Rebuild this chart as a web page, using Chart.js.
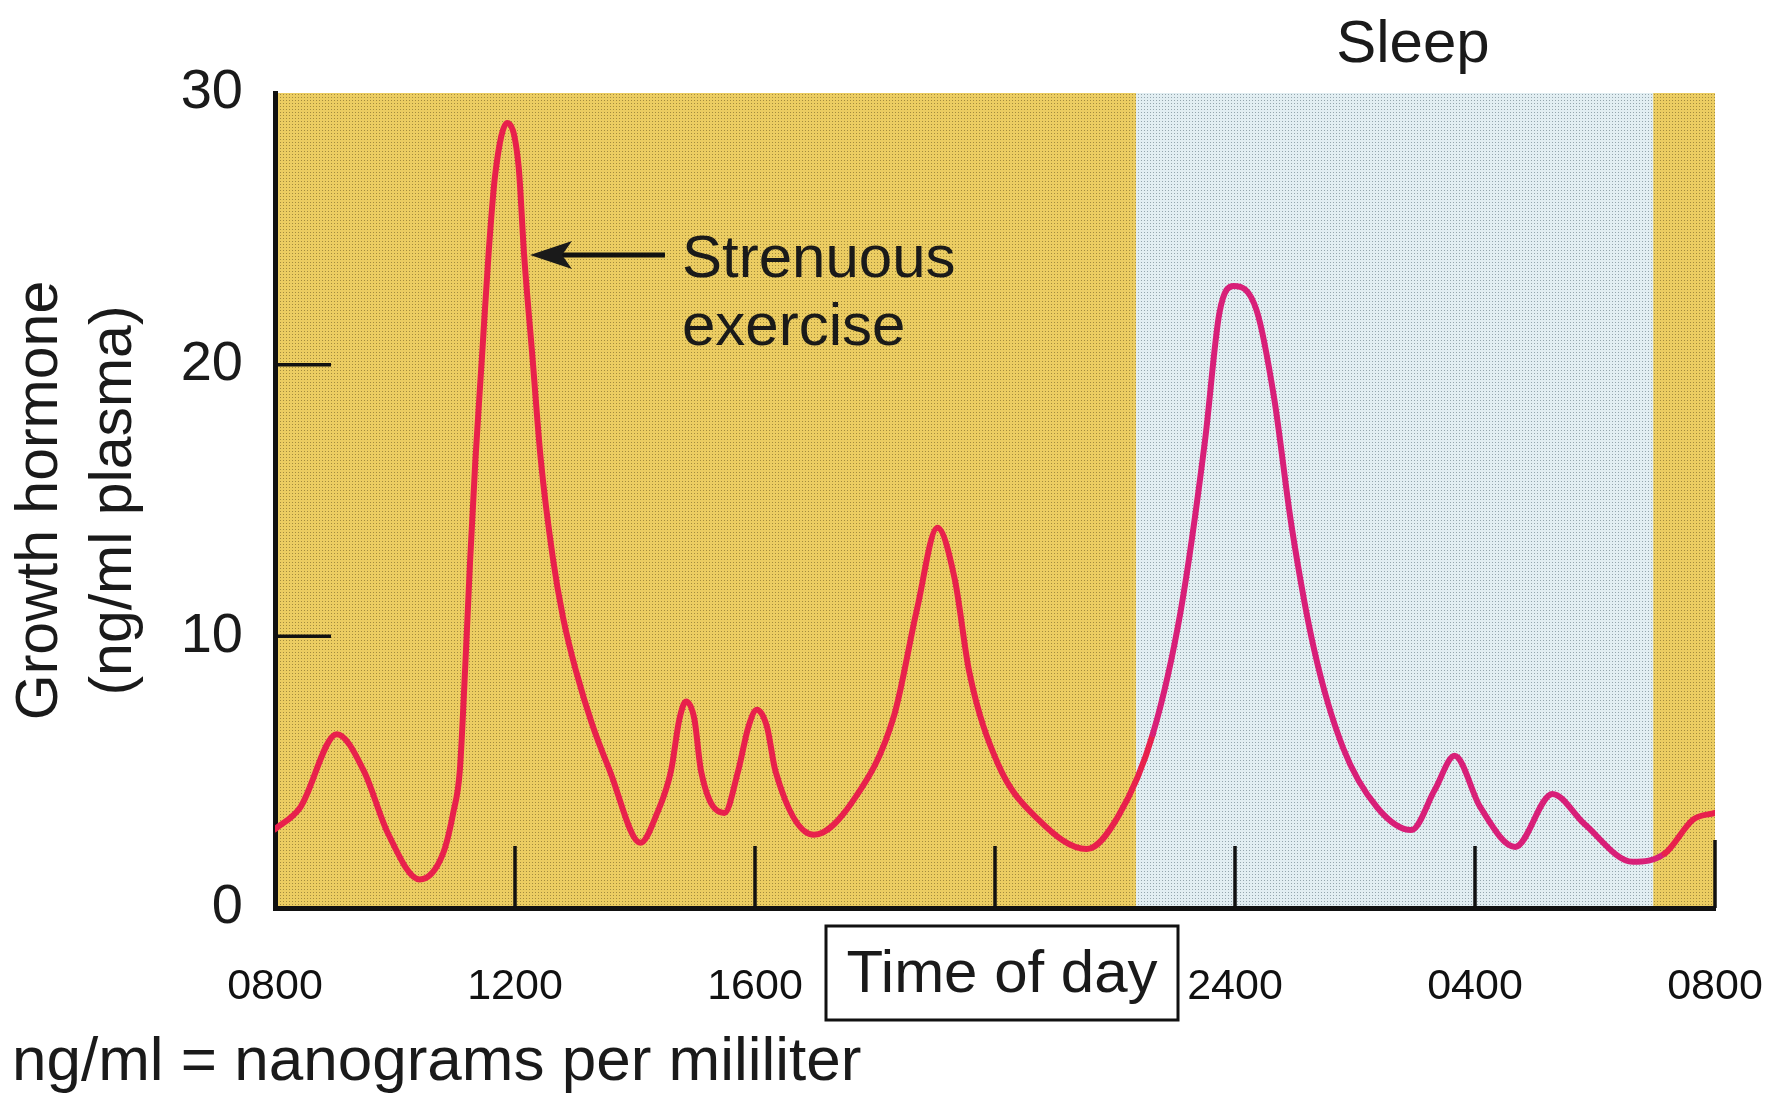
<!DOCTYPE html>
<html>
<head>
<meta charset="utf-8">
<title>Growth hormone</title>
<script src="https://cdn.jsdelivr.net/npm/chart.js@4.4.1/dist/chart.umd.min.js"></script>
<style>
  html, body { margin: 0; padding: 0; background: #fff; }
  canvas { display: block; }
</style>
</head>
<body>
<canvas id="ghChart" width="1773" height="1099"></canvas>
<script>
// hours after 08:00
const hours = [0, 0.42, 1.03, 1.48, 1.88, 2.41, 2.8, 2.97, 3.08, 3.17, 3.25, 3.34, 3.45, 3.56, 3.67, 3.87, 4.06, 4.15, 4.29, 4.43,
  4.63, 4.8, 5.02, 5.28, 5.58, 6.09, 6.37, 6.6, 6.74, 6.85, 6.99, 7.1, 7.49, 7.72, 7.89, 8.03, 8.2, 8.34, 8.98, 9.65,
  10.32, 10.7, 11.04, 11.33, 11.57, 12.05, 12.72, 13.53, 14.06, 14.63, 15.1, 15.5, 15.74, 15.98, 16.36, 16.65, 16.94, 17.32,
  17.8, 18.37, 18.94, 19.33, 19.66, 20.09, 20.67, 21.29, 21.82, 22.63, 23.16, 23.64, 24];
// ng/ml plasma
const hormone = [2.9, 3.7, 6.4, 5.05, 2.76, 1.05, 2.0, 3.5, 5.05, 8.86, 12.7, 16.5, 20.3, 24.1, 27.0, 28.9, 27.3, 24.1, 20.3, 16.5,
  12.9, 10.7, 8.7, 6.8, 5.05, 2.4, 3.5, 5.05, 6.95, 7.6, 6.95, 5.05, 3.5, 5.05, 6.67, 7.3, 6.67, 5.05, 2.7, 4.0,
  7.1, 11.0, 14.0, 12.1, 8.7, 5.3, 3.26, 2.17, 3.4, 6.4, 11.0, 17.2, 21.9, 22.9, 22.0, 18.8, 14.1, 9.5,
  5.9, 3.7, 2.87, 4.35, 5.6, 3.7, 2.25, 4.2, 3.1, 1.7, 2.0, 3.26, 3.5];

const xTickHours = [0, 4, 8, 12, 16, 20, 24];
const xTickLabels = ['0800', '1200', '1600', '', '2400', '0400', '0800'];
const yTicks = [0, 10, 20, 30];
const sleepBand = [14.35, 22.97]; // start / end of sleep

const dayColor = '#e8204c';
const nightColor = '#d81f78';
const FONT = "'Liberation Sans', Arial, Helvetica, sans-serif";

function makePattern(base, dot) {
  const c = document.createElement('canvas');
  c.width = 3; c.height = 3;
  const g = c.getContext('2d');
  g.fillStyle = base;
  g.fillRect(0, 0, 3, 3);
  g.fillStyle = dot;
  g.fillRect(1, 1, 1, 1);
  return g.createPattern(c, 'repeat');
}
const dayFill = makePattern('#eccd62', '#a48c3e');
const nightFill = makePattern('#e2eef2', '#95a6ae');

// background: day yellow, sleep blue
const bgPlugin = {
  id: 'bg',
  beforeDraw(chart) {
    const { ctx, chartArea: { left, right, top, bottom }, scales: { x } } = chart;
    ctx.save();
    ctx.fillStyle = dayFill;
    ctx.fillRect(left, top, right - left, bottom - top);
    const s = x.getPixelForValue(sleepBand[0]);
    const e = x.getPixelForValue(sleepBand[1]);
    ctx.fillStyle = nightFill;
    ctx.fillRect(s, top, e - s, bottom - top);
    ctx.restore();
  }
};

// tick marks drawn inside the plot
const tickPlugin = {
  id: 'innerTicks',
  beforeDatasetsDraw(chart) {
    const { ctx, chartArea: { left, bottom }, scales: { x, y } } = chart;
    ctx.save();
    ctx.strokeStyle = '#111';
    ctx.lineWidth = 3.5;
    ctx.beginPath();
    xTickHours.slice(1).forEach(h => {
      const px = x.getPixelForValue(h);
      ctx.moveTo(px, bottom);
      ctx.lineTo(px, bottom - (h === 24 ? 68 : 62));
    });
    [10, 20].forEach(v => {
      const py = y.getPixelForValue(v);
      ctx.moveTo(left, py);
      ctx.lineTo(left + 56, py);
    });
    ctx.stroke();
    ctx.restore();
  }
};

// labels, arrow, boxed axis title, footnote
const notePlugin = {
  id: 'notes',
  afterDraw(chart) {
    const { ctx } = chart;
    ctx.save();
    ctx.fillStyle = '#1a1a1a';
    ctx.strokeStyle = '#111';
    ctx.textBaseline = 'alphabetic';

    ctx.font = '60px ' + FONT;
    ctx.textAlign = 'center';
    ctx.fillText('Sleep', 1413, 62);

    ctx.textAlign = 'left';
    ctx.fillText('Strenuous', 682, 277);
    ctx.fillText('exercise', 682, 345);

    // arrow
    ctx.lineWidth = 5;
    ctx.beginPath();
    ctx.moveTo(665, 255);
    ctx.lineTo(556, 255);
    ctx.stroke();
    ctx.beginPath();
    ctx.moveTo(530, 255);
    ctx.lineTo(572, 241);
    ctx.lineTo(562, 255);
    ctx.lineTo(572, 269);
    ctx.closePath();
    ctx.fill();

    // Time of day box
    ctx.lineWidth = 3;
    ctx.strokeRect(826, 926, 352, 94);
    ctx.textAlign = 'center';
    ctx.fillText('Time of day', 1002, 992);

    ctx.textAlign = 'left';
    ctx.font = '62px ' + FONT;
    ctx.fillText('ng/ml = nanograms per mililiter', 12, 1080);
    ctx.restore();
  }
};

const data = {
  datasets: [{
    data: hours.map((h, i) => ({ x: h, y: hormone[i] })),
    borderColor: dayColor,
    borderWidth: 6,
    pointRadius: 0,
    cubicInterpolationMode: 'monotone',
    borderJoinStyle: 'round',
    borderCapStyle: 'round',
    fill: false,
    segment: {
      borderColor: c => {
        const mid = (c.p0.parsed.x + c.p1.parsed.x) / 2;
        return mid > sleepBand[0] && mid < sleepBand[1] ? nightColor : dayColor;
      }
    }
  }]
};

const config = {
  type: 'line',
  data: data,
  options: {
    responsive: false,
    animation: false,
    layout: {
      padding: { left: 0, top: 93, right: 58, bottom: 0 }
    },
    plugins: {
      legend: { display: false },
      tooltip: { enabled: false }
    },
    scales: {
      x: {
        type: 'linear',
        min: 0,
        max: 24,
        grid: { display: false, drawTicks: false },
        border: { display: true, color: '#111', width: 5 },
        afterBuildTicks: scale => { scale.ticks = xTickHours.map(v => ({ value: v })); },
        afterFit: scale => {
          scale.height = 191;
          scale.paddingLeft = 0;
          scale.paddingRight = 0;
        },
        ticks: {
          autoSkip: false,
          maxRotation: 0,
          padding: 53,
          color: '#111',
          font: { family: FONT, size: 43 },
          callback: (value, index) => xTickLabels[index]
        }
      },
      y: {
        min: 0,
        max: 30,
        grid: { display: false, drawTicks: false },
        border: { display: true, color: '#111', width: 5 },
        afterBuildTicks: scale => { scale.ticks = yTicks.map(v => ({ value: v })); },
        afterFit: scale => { scale.width = 275; },
        ticks: {
          padding: 32,
          color: '#1a1a1a',
          font: { family: FONT, size: 56 }
        },
        title: {
          display: true,
          text: ['Growth hormone', '(ng/ml plasma)'],
          color: '#1a1a1a',
          padding: { top: 4, bottom: 0 },
          font: { family: FONT, size: 59, lineHeight: 1.25 }
        }
      }
    }
  },
  plugins: [bgPlugin, tickPlugin, notePlugin]
};

const ghChart = new Chart(document.getElementById('ghChart'), config);
</script>
</body>
</html>
